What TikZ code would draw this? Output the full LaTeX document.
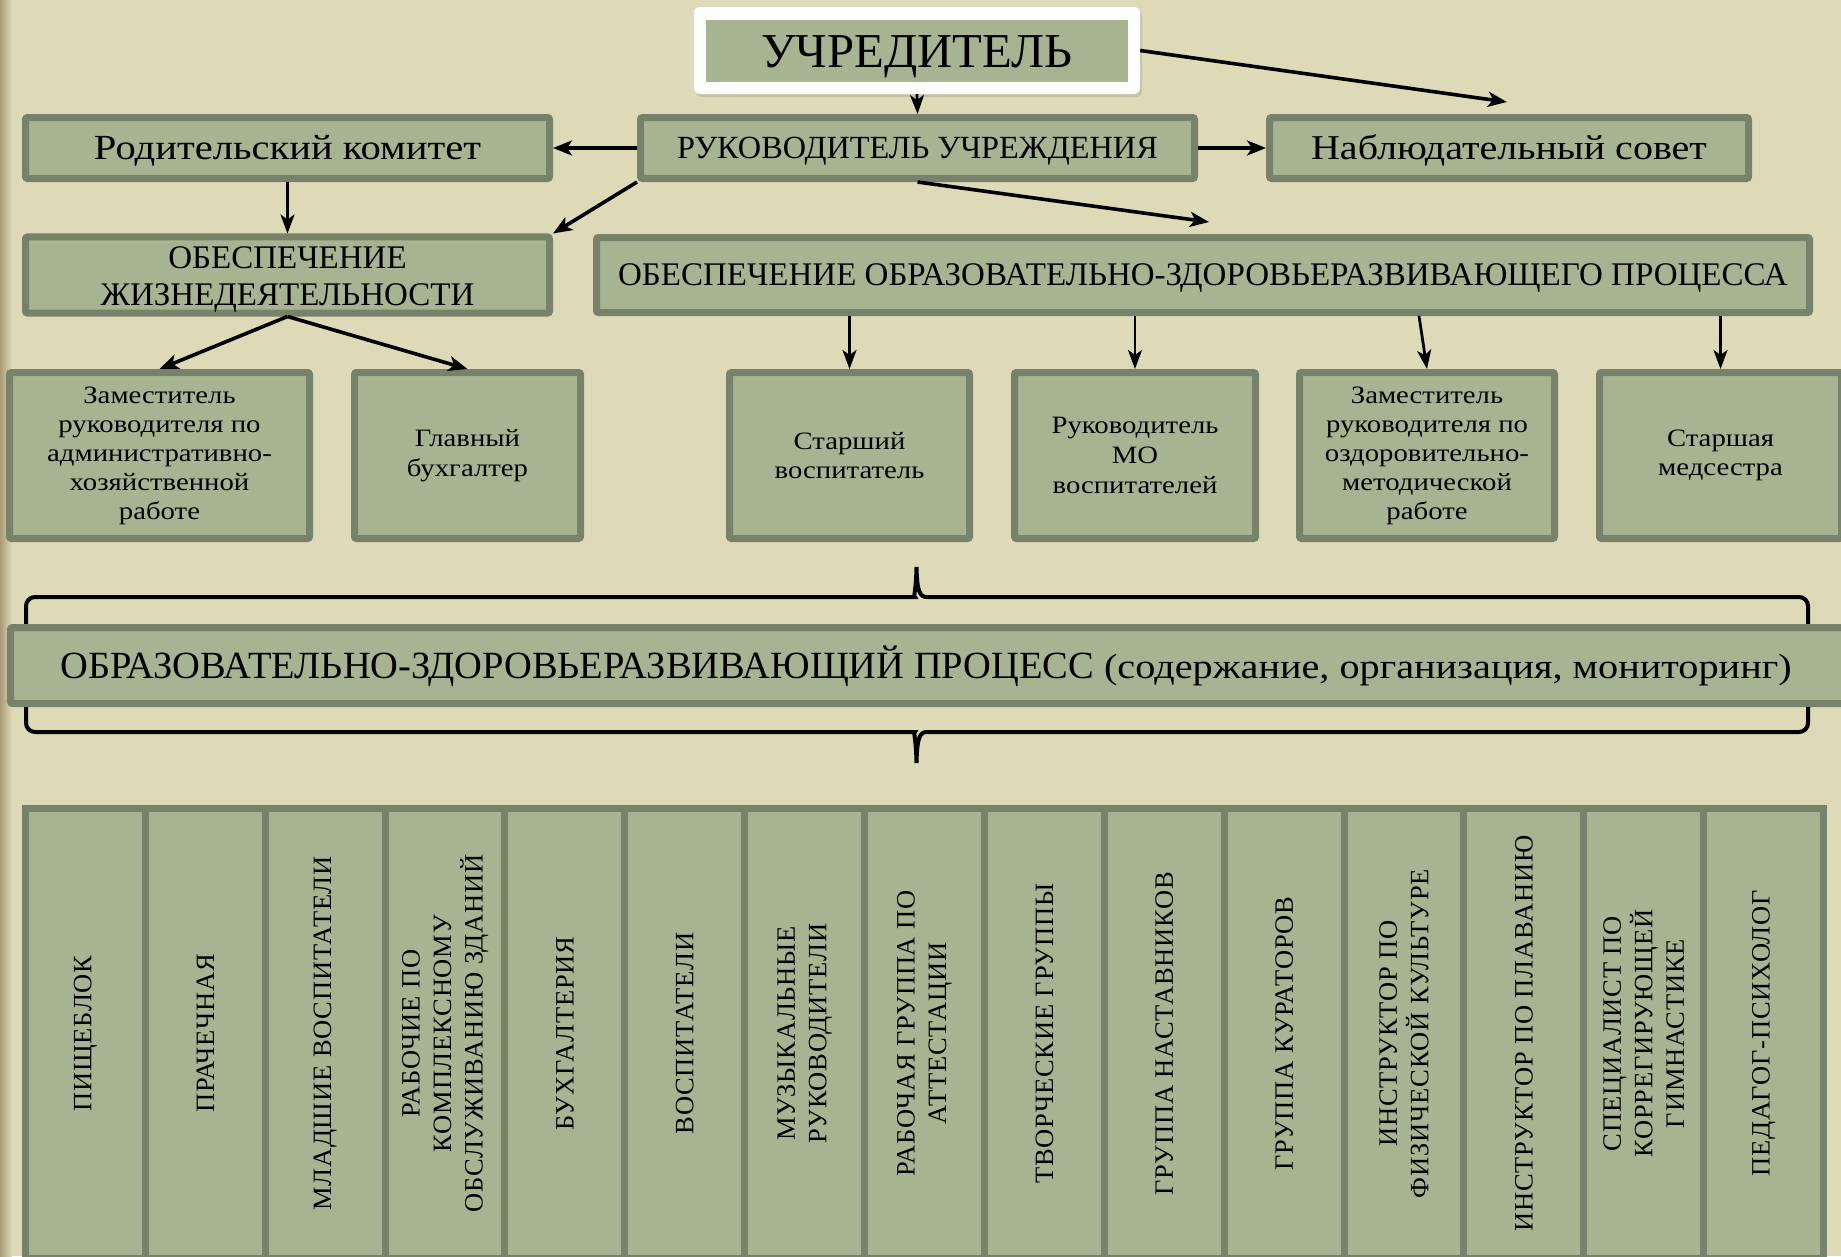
\documentclass[tikz,border=0pt]{standalone}
\usepackage{fontspec}
\setmainfont{Liberation Serif}
\newfontfamily\wf{Liberation Serif}[FakeStretch=1.15]
\newfontfamily\capf{Liberation Serif}[LetterSpace=3]
\usetikzlibrary{arrows.meta,calc,shadows}
\definecolor{bg}{HTML}{DEDAB8}
\definecolor{edge}{HTML}{A89C76}
\definecolor{boxfill}{HTML}{A6B492}
\definecolor{boxline}{HTML}{76826A}
\tikzset{
  box/.style={draw=boxline, fill=boxfill, line width=7pt, rounded corners=2pt, inner sep=0pt, align=center, text=black},
  arr/.style={-{Stealth[length=19pt,width=15pt,inset=5pt]}, line width=3.6pt, black},
  arrt/.style={-{Stealth[length=19pt,width=14pt,inset=5pt]}, line width=2.8pt, black},
  bracepath/.style={line width=4pt, black},
  cell/.style={rotate=90, draw=boxline, fill=boxfill, line width=7pt, minimum width=450pt, minimum height=119.87pt, inner sep=0pt, align=center, text=black, font=\capf\fontsize{26.5}{31.5}\selectfont}
}
\newcommand\obox[8][]{%
  \pgfmathsetmacro\bw{#5-#3-7}\pgfmathsetmacro\bh{#6-#4-7}%
  \node[box,font={#7},minimum width=\bw pt,minimum height=\bh pt,#1] (#2) at ({(#3+#5)/2},{(#4+#6)/2}) {#8};}
\begin{document}
\begin{tikzpicture}[x=1pt,y=-1pt]
\useasboundingbox (0,0) rectangle (1841,1256);
\fill[bg] (0,0) rectangle (1841,1256);
\shade[left color=edge, right color=bg] (0,0) rectangle (12,1256);
\begin{scope}
\clip (0,0) rectangle (1841,1256);
% founder
\node[fill=white, rounded corners=6pt, minimum width=446pt, minimum height=87pt, inner sep=0pt,
      drop shadow={opacity=0.25, shadow xshift=2pt, shadow yshift=-3pt}] (uchrw) at (917,50.5) {};
\node[fill=boxfill, minimum width=422pt, minimum height=62pt, inner sep=0pt, text height=32.2pt, text depth=0pt,
      font=\fontsize{48.7}{56}\selectfont] (uchr) at (917,51) {УЧРЕДИТЕЛЬ};
% level 1
\obox[text height=23.4pt,text depth=0pt]{rod}{22}{114}{553}{182}{\wf\fontsize{35.3}{40}\selectfont}{Родительский комитет}
\obox[text height=21.4pt,text depth=0pt]{ruk}{637}{114}{1198}{182}{\fontsize{32.3}{36}\selectfont}{РУКОВОДИТЕЛЬ УЧРЕЖДЕНИЯ}
\obox[text height=23pt,text depth=0pt]{nabl}{1266}{114}{1752}{182}{\wf\fontsize{34.8}{40}\selectfont}{Наблюдательный совет}
% level 2
\obox{zhiz}{22}{234}{553}{316}{\fontsize{33}{37}\selectfont}{\rule{0pt}{32pt}ОБЕСПЕЧЕНИЕ\\ЖИЗНЕДЕЯТЕЛЬНОСТИ}
\obox[text height=21.8pt,text depth=0pt]{obr}{593}{234}{1813}{316}{\fontsize{33}{36}\selectfont}{ОБЕСПЕЧЕНИЕ ОБРАЗОВАТЕЛЬНО-ЗДОРОВЬЕРАЗВИВАЮЩЕГО ПРОЦЕССА}
% level 3
\obox{zam1}{6}{369}{313}{542}{\wf\fontsize{25}{29}\selectfont}{Заместитель\\руководителя по\\административно-\\хозяйственной\\работе}
\obox{glav}{351}{369}{584}{542}{\wf\fontsize{25}{29.5}\selectfont}{Главный\\бухгалтер}
\obox{star}{726}{369}{973}{542}{\wf\fontsize{25}{29.5}\selectfont}{Старший\\воспитатель}
\obox{rmo}{1011}{369}{1259}{542}{\wf\fontsize{25}{30}\selectfont}{Руководитель\\МО\\воспитателей}
\obox{zam2}{1296}{369}{1558}{542}{\wf\fontsize{25}{29}\selectfont}{Заместитель\\руководителя по\\оздоровительно-\\методической\\работе}
\obox{med}{1596}{369}{1845}{542}{\wf\fontsize{25}{29.5}\selectfont}{Старшая\\медсестра}
% connectors
\coordinate (nablin) at (1507,102);
\coordinate (obrin) at (1209,222);
\coordinate (z2s) at ($(obr.south -| zam2.north)+(-8,0)$);
\draw[arrt] (uchrw.south) -- (ruk.north);
\draw[arr] (uchrw.east) -- (nablin);
\draw[arr] (ruk.west) -- (rod.east);
\draw[arr] (ruk.east) -- (nabl.west);
\draw[arrt] (rod.south) -- (zhiz.north);
\draw[arr] (ruk.south west) -- (zhiz.north east);
\draw[arr] (ruk.south) -- (obrin);
\draw[arr] (zhiz.south) -- (zam1.north);
\draw[arr] (zhiz.south) -- (glav.north);
\draw[arrt] (obr.south -| star.north) -- (star.north);
\draw[arrt] (obr.south -| rmo.north) -- (rmo.north);
\draw[arrt] (z2s) -- (zam2.north);
\draw[arrt] (obr.south -| med.north) -- (med.north);
% braces
\draw[bracepath] {[rounded corners=9pt] (26,632) -- (26,597) -- (906,597)}
   .. controls (913,597) and (916,592) .. (916.5,567)
   .. controls (917,592) and (920,597) .. (927,597)
   {[rounded corners=9pt] -- (1808,597) -- (1808,632)};
\draw[bracepath] {[rounded corners=9pt] (26,700) -- (26,732) -- (906,732)}
   .. controls (913,732) and (916,737) .. (916.5,763)
   .. controls (917,737) and (920,732) .. (927,732)
   {[rounded corners=9pt] -- (1808,732) -- (1808,700)};
% process
\obox[text height=25.4pt,text depth=0pt]{proc}{7}{624}{1850}{707}{\fontsize{38.5}{42}\selectfont}{\hspace*{-5pt}ОБРАЗОВАТЕЛЬНО-ЗДОРОВЬЕРАЗВИВАЮЩИЙ ПРОЦЕСС {\wf\fontsize{35}{40}\selectfont(содержание, организация, мониторинг)}}
% bottom table
\foreach \i/\t in {1/{ПИЩЕБЛОК},2/{ПРАЧЕЧНАЯ},3/{МЛАДШИЕ ВОСПИТАТЕЛИ},4/{РАБОЧИЕ ПО\\КОМПЛЕКСНОМУ\\ОБСЛУЖИВАНИЮ ЗДАНИЙ},5/{БУХГАЛТЕРИЯ},6/{ВОСПИТАТЕЛИ},7/{МУЗЫКАЛЬНЫЕ\\РУКОВОДИТЕЛИ},8/{РАБОЧАЯ ГРУППА ПО\\АТТЕСТАЦИИ},9/{ТВОРЧЕСКИЕ ГРУППЫ},10/{ГРУППА НАСТАВНИКОВ},11/{ГРУППА КУРАТОРОВ},12/{ИНСТРУКТОР ПО\\ФИЗИЧЕСКОЙ КУЛЬТУРЕ},13/{ИНСТРУКТОР ПО ПЛАВАНИЮ},14/{СПЕЦИАЛИСТ ПО\\КОРРЕГИРУЮЩЕЙ\\ГИМНАСТИКЕ},15/{ПЕДАГОГ-ПСИХОЛОГ}}{
  \node[cell] (cell\i) at ({25.5+119.87*(\i-0.5)},1033.5) {\t};
}
\end{scope}
\end{tikzpicture}
\end{document}
